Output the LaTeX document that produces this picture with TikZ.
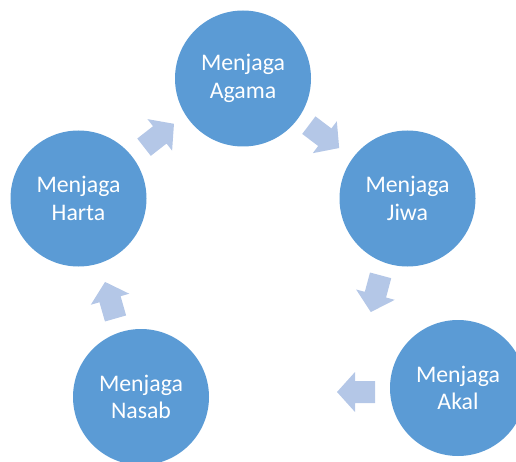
\documentclass[tikz,border=0pt]{standalone}
\usepackage{fontspec}
\setmainfont{Carlito}
\definecolor{circ}{HTML}{5B9BD5}
\definecolor{arr}{HTML}{B4C7E7}
\tikzset{
  bubble/.style={circle, fill=circ, minimum size=136pt, inner sep=0pt, text=white, align=center, font=\fontsize{23.8}{27.5}\selectfont},
  blockarrow/.pic={\fill[arr] (-19,-11) -- (1,-11) -- (1,-20) -- (19,0) -- (1,20) -- (1,11) -- (-19,11) -- cycle;}
}
\begin{document}
\begin{tikzpicture}[x=1pt,y=1pt]
\useasboundingbox (0,0) rectangle (516,461);
\node[bubble] (agama) at (243,382.5) {Menjaga\\Agama};
\node[bubble] (jiwa) at (407.5,262.5) {Menjaga\\Jiwa};
\node[bubble] (akal) at (458,73) {Menjaga\\Akal};
\node[bubble] (nasab) at (141,64) {Menjaga\\Nasab};
\node[bubble] (harta) at (78.5,262.5) {Menjaga\\Harta};
\pic[rotate=38] (a1) at (159,325.5) {blockarrow};
\pic[rotate=-37] (a2) at (324,324.4) {blockarrow};
\pic[rotate=-105] (a3) at (375.7,167.3) {blockarrow};
\pic[rotate=180] (a4) at (356,69) {blockarrow};
\pic[rotate=106] (a5) at (110.3,160.8) {blockarrow};
\end{tikzpicture}
\end{document}
